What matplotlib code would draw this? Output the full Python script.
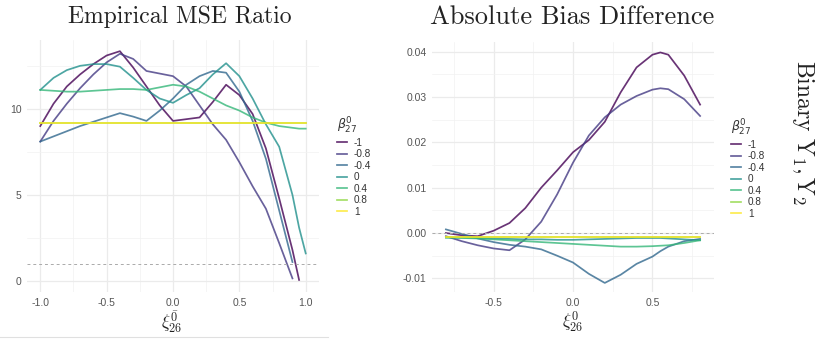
import numpy as np
import matplotlib
matplotlib.use("Agg")
import matplotlib.pyplot as plt
from matplotlib.lines import Line2D
from matplotlib.ticker import MultipleLocator

plt.rcParams['font.family'] = ['Liberation Sans', 'DejaVu Sans']
plt.rcParams['mathtext.fontset'] = 'cm'

# beta_27^0 levels and viridis colours
levels = ["-1", "-0.8", "-0.4", "0", "0.4", "0.8", "1"]
colors = ["#440154", "#443A83", "#31688E", "#21908C", "#35B779", "#8FD744", "#FDE725"]

# left panel: empirical MSE ratio
x_mse = [-1.0, -0.9, -0.8, -0.7, -0.6, -0.5, -0.4, -0.3, -0.2, -0.1, 0.0,
         0.1, 0.2, 0.3, 0.4, 0.5, 0.6, 0.7, 0.8, 0.9, 0.95, 1.0]
nan = np.nan
mse_m1 = [9.0, 10.3, 11.3, 12.0, 12.6, 13.1, 13.35, 12.4, 11.3, 10.2, 9.3,
          9.4, 9.5, 10.4, 11.4, 10.8, 9.7, 7.7, 4.8, 1.8, 0.06, nan]
mse_m08 = [8.1, 9.3, 10.3, 11.2, 12.0, 12.7, 13.2, 12.9, 12.2, 12.05, 11.9,
           11.3, 10.2, 9.1, 8.2, 6.9, 5.5, 4.2, 2.2, 0.15, nan, nan]
mse_m04 = [8.1, 8.4, 8.7, 9.0, 9.25, 9.5, 9.75, 9.55, 9.3, 9.9, 10.6,
           11.4, 11.9, 12.2, 12.1, 11.0, 9.3, 7.1, 4.1, 1.1, nan, nan]
mse_0 = [11.1, 11.8, 12.25, 12.5, 12.6, 12.6, 12.45, 11.8, 11.1, 10.6, 10.35,
         10.8, 11.2, 12.0, 12.65, 11.9, 10.6, 9.1, 7.8, 5.0, 3.1, 1.6]
mse_04 = [11.1, 11.05, 11.0, 11.0, 11.05, 11.1, 11.15, 11.15, 11.1, 11.25, 11.4,
          11.3, 11.0, 10.6, 10.2, 9.9, 9.5, 9.2, 9.0, 8.9, 8.85, 8.85]
mse_08 = [9.2] * 22
mse_1 = [9.2] * 22

# right panel: absolute bias difference
x_bias = [-0.8, -0.7, -0.6, -0.5, -0.4, -0.3, -0.2, -0.1, 0.0,
          0.1, 0.2, 0.3, 0.4, 0.5, 0.55, 0.6, 0.7, 0.8]
bias_m1 = [0.0, -0.0005, -0.0007, 0.0005, 0.0022, 0.0055, 0.0100, 0.0138, 0.0178,
           0.0205, 0.0245, 0.0310, 0.0365, 0.0393, 0.0398, 0.0393, 0.0347, 0.0283]
bias_m08 = [-0.0007, -0.0018, -0.0027, -0.0034, -0.0038, -0.0014, 0.0025, 0.0085, 0.0155,
            0.0215, 0.0255, 0.0283, 0.0302, 0.0316, 0.0319, 0.0317, 0.0295, 0.0258]
bias_m04 = [0.0008, -0.0002, -0.0012, -0.0020, -0.0026, -0.0030, -0.0036, -0.0050, -0.0065,
            -0.0090, -0.0110, -0.0092, -0.0068, -0.0052, -0.0040, -0.0030, -0.0018, -0.0013]
bias_0 = [-0.0010, -0.0010, -0.0011, -0.0012, -0.0013, -0.0014, -0.0014, -0.0015, -0.0015,
          -0.0014, -0.0013, -0.0012, -0.0011, -0.0011, -0.0011, -0.0012, -0.0014, -0.0016]
bias_04 = [-0.0010, -0.0011, -0.0012, -0.0014, -0.0016, -0.0018, -0.0020, -0.0022, -0.0024,
           -0.0026, -0.0028, -0.0030, -0.0030, -0.0029, -0.0028, -0.0027, -0.0022, -0.0016]
bias_08 = [-0.0008] * 18
bias_1 = [-0.0008] * 18

mse_series = [mse_m1, mse_m08, mse_m04, mse_0, mse_04, mse_08, mse_1]
bias_series = [bias_m1, bias_m08, bias_m04, bias_0, bias_04, bias_08, bias_1]

W, H = 817, 339
fig = plt.figure(figsize=(W / 100, H / 100), dpi=100)


def px_axes(l, r, t, b):
    return fig.add_axes([l / W, 1 - b / H, (r - l) / W, (b - t) / H])


def style(ax):
    for s in ax.spines.values():
        s.set_visible(False)
    ax.grid(which='major', color='#EBEBEB', lw=0.9)
    ax.grid(which='minor', color='#F2F2F2', lw=0.5)
    ax.set_axisbelow(True)
    ax.tick_params(which='both', length=0, labelsize=7.5, labelcolor='#555555', pad=4)


def add_legend(ax, x, y):
    leg = ax.legend(title=r'$\beta^0_{27}$', loc='upper left',
                    bbox_to_anchor=(x / W, 1 - y / H), bbox_transform=fig.transFigure,
                    frameon=False, fontsize=7.2, title_fontsize=9, handlelength=1.0,
                    handletextpad=0.7, labelspacing=0.15, borderpad=0, borderaxespad=0,
                    alignment='left')
    leg.get_title().set_math_fontfamily('dejavusans')
    leg.get_title().set_color('#333333')
    for t in leg.get_texts():
        t.set_color('#333333')


# left panel
ax1 = px_axes(27, 319, 40, 292)
style(ax1)
for ys, lab, c in zip(mse_series, levels, colors):
    ax1.plot(x_mse, ys, color=c, lw=1.25, alpha=0.8, label=lab)
ax1.axhline(1, color='#AAAAAA', lw=0.7, ls=(0, (3, 3)))
ax1.set_xlim(-1.1, 1.1)
ax1.set_ylim(-0.64, 14.0)
ax1.xaxis.set_major_locator(MultipleLocator(0.5))
ax1.xaxis.set_minor_locator(MultipleLocator(0.25))
ax1.yaxis.set_major_locator(MultipleLocator(5))
ax1.yaxis.set_minor_locator(MultipleLocator(2.5))
ax1.set_xticks([-1.0, -0.5, 0.0, 0.5, 1.0])
ax1.set_xticklabels(['-1.0', '-0.5', '0.0', '0.5', '1.0'])
ax1.set_yticks([0, 5, 10])
add_legend(ax1, 337, 116)

# right panel
ax2 = px_axes(432, 714, 42, 292)
style(ax2)
for ys, lab, c in zip(bias_series, levels, colors):
    ax2.plot(x_bias, ys, color=c, lw=1.25, alpha=0.8, label=lab)
ax2.axhline(0, color='#AAAAAA', lw=0.7, ls=(0, (3, 3)))
ax2.set_xlim(-0.8875, 0.8875)
ax2.set_ylim(-0.013, 0.0421)
ax2.xaxis.set_major_locator(MultipleLocator(0.5))
ax2.xaxis.set_minor_locator(MultipleLocator(0.25))
ax2.yaxis.set_major_locator(MultipleLocator(0.01))
ax2.yaxis.set_minor_locator(MultipleLocator(0.005))
ax2.set_xticks([-0.5, 0.0, 0.5])
ax2.set_xticklabels(['-0.5', '0.0', '0.5'])
ax2.set_yticks([-0.01, 0.0, 0.01, 0.02, 0.03, 0.04])
ax2.set_yticklabels(['-0.01', '0.00', '0.01', '0.02', '0.03', '0.04'])
add_legend(ax2, 731, 118)

# titles and labels
fig.text(180 / W, 1 - 17 / H, 'Empirical MSE Ratio', fontfamily='cmr10',
         fontsize=17, ha='center', va='center', color='#222222')
fig.text(572 / W, 1 - 17 / H, 'Absolute Bias Difference', fontfamily='cmr10',
         fontsize=19, ha='center', va='center', color='#222222')
fig.text(172 / W, 1 - 322 / H, r'$\xi^{\bar{0}}_{26}$', fontsize=12.5,
         ha='center', va='center', color='#222222')
fig.text(573 / W, 1 - 322 / H, r'$\xi^{0}_{26}$', fontsize=12.5,
         ha='center', va='center', color='#222222')
fig.text(803 / W, 1 - 133 / H, r'Binary $\mathrm{Y}_1, \mathrm{Y}_2$', fontfamily='cmr10',
         fontsize=17, rotation=270, ha='center', va='center', color='#222222')

fig.add_artist(Line2D([0, 328 / W], [1 - 337 / H, 1 - 337 / H],
                      transform=fig.transFigure, color='#E0E0E0', lw=0.8))

fig.savefig('out.png', dpi=100)
